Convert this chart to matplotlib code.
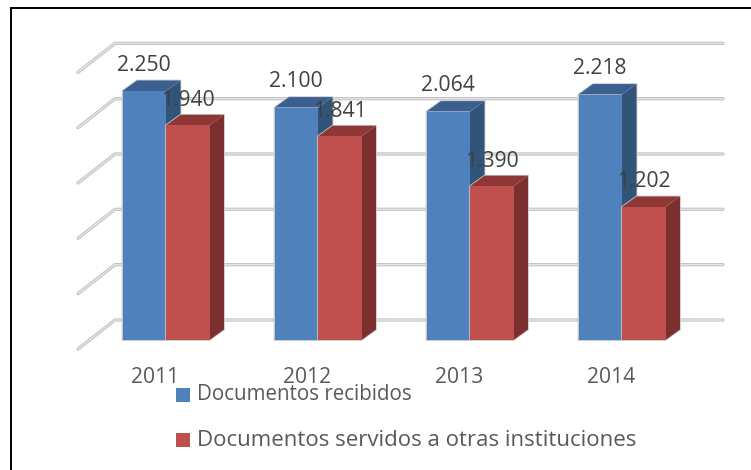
import matplotlib
matplotlib.use("Agg")
import matplotlib.pyplot as plt
from matplotlib.patches import Polygon, Rectangle

years = ["2011", "2012", "2013", "2014"]
recibidos = [2250, 2100, 2064, 2218]
servidos = [1940, 1841, 1390, 1202]
recibidos_labels = ["2.250", "2.100", "2.064", "2.218"]
servidos_labels = ["1.940", "1.841", "1.390", "1.202"]
legend_names = ["Documentos recibidos", "Documentos servidos a otras instituciones"]
grid_values = [0, 500, 1000, 1500, 2000, 2500]

W, H = 751, 470
plt.rcParams["font.family"] = ["Open Sans", "DejaVu Sans"]
fig = plt.figure(figsize=(W / 100, H / 100), dpi=100)
ax = fig.add_axes([0, 0, 1, 1])

PX_X = 152.0          # pixels per category
PX_Y = 249.0 / 2250   # pixels per value unit
X0, Y0 = 166.0, 340.0
ax.set_xlim(-X0 / PX_X, (W - X0) / PX_X)
ax.set_ylim((Y0 - H) / PX_Y, Y0 / PX_Y)
ax.axis("off")

dx = lambda p: p / PX_X
dy = lambda p: p / PX_Y

# outer border: only top and left edges are visible in the crop
bx, by = 10.5 / W, 1 - 7.5 / H
ax.plot([bx, bx, 1], [0, by, by], transform=ax.transAxes, color="black",
        lw=1.4, zorder=0, solid_joinstyle="miter", clip_on=False)

# perspective gridlines on the back and side walls
for v in grid_values:
    y = v + dy(20)
    xs = [dx(-88), dx(-51), dx(557)]
    ys = [y - dy(29), y, y]
    ax.plot(xs, ys, color="#c4c4c4", lw=2.4, solid_capstyle="round",
            solid_joinstyle="round", zorder=1)
    ax.plot(xs, ys, color="#e6e6e6", lw=0.9, solid_capstyle="round",
            solid_joinstyle="round", zorder=1.1)

BW = dx(43.5)
DX, DY = dx(14.5), dy(10.5)
series = [
    (recibidos, -BW, "#4f81bd", "#3b6090", "#315479", 2),
    (servidos, 0, "#c0504d", "#8e3735", "#7b2f2e", 3),
]
for vals, off, front, top, side, z in series:
    for i, v in enumerate(vals):
        l = i + off
        r = l + BW
        ax.add_patch(Polygon([(l, v), (l + DX, v + DY), (r + DX, v + DY), (r + DX, DY), (r, 0), (l, 0)],
                             fc="none", ec="#c8c8c8", lw=1.2, zorder=z - 0.1))
        ax.add_patch(Polygon([(r, 0), (r + DX, DY), (r + DX, v + DY), (r, v)],
                             fc=side, ec="none", zorder=z))
        ax.add_patch(Polygon([(l, v), (l + DX, v + DY), (r + DX, v + DY), (r, v)],
                             fc=top, ec="none", zorder=z))
        ax.add_patch(Rectangle((l, 0), BW, v, fc=front, ec="none", zorder=z + 0.1))

TXT = "#404040"
FS = 15.2
for i, (a, b, la, lb) in enumerate(zip(recibidos, servidos, recibidos_labels, servidos_labels)):
    ax.text(i + dx(-22), a + dy(26), la, ha="center", va="center", fontsize=FS, color=TXT, zorder=6)
    ax.text(i + dx(22), b + dy(25), lb, ha="center", va="center", fontsize=FS, color=TXT, zorder=6)
    ax.text(i + dx(-11), dy(-37.5), years[i], ha="center", va="center", fontsize=FS, color="#595959", zorder=6)

# legend
for name, c, ypx, fs in zip(legend_names, ["#4f81bd", "#c0504d"], [395, 440], [14.8, 16.0]):
    xl = -X0 / PX_X + dx(176)
    yb = (Y0 - ypx) / PX_Y
    ax.add_patch(Rectangle((xl, yb - dy(7)), dx(14), dy(14), fc=c, ec="none", zorder=6))
    ax.text(xl + dx(21), yb, name, ha="left", va="center", fontsize=fs, color="#595959", zorder=7)

fig.savefig("out.png", dpi=100)
